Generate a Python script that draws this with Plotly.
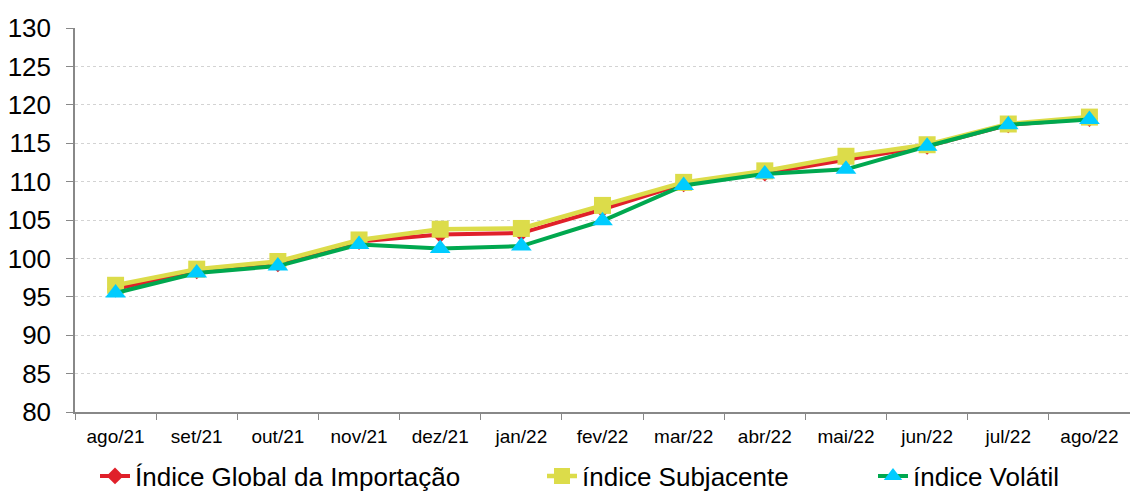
import plotly.graph_objects as go

# meses (eixo x)
meses = ["ago/21", "set/21", "out/21", "nov/21", "dez/21", "jan/22", "fev/22",
         "mar/22", "abr/22", "mai/22", "jun/22", "jul/22", "ago/22"]

# valores
indice_global = [96.0, 98.4, 99.3, 102.2, 103.1, 103.3, 106.4, 109.7, 111.1, 112.8, 114.6, 117.4, 118.2]
indice_subjacente = [96.5, 98.6, 99.6, 102.4, 103.8, 103.9, 106.9, 109.9, 111.4, 113.3, 114.8, 117.5, 118.4]
indice_volatil = [95.5, 98.1, 99.0, 101.8, 101.3, 101.6, 104.9, 109.5, 111.0, 111.6, 114.6, 117.4, 118.1]

nomes = ["Índice Global da Importação", "índice Subjacente", "índice Volátil"]

fonte = "Liberation Sans, Arial, sans-serif"
W, H = 1130, 492

fig = go.Figure()

fig.add_trace(go.Scatter(
    x=meses, y=indice_global, mode="lines+markers", name=nomes[0],
    line=dict(color="#E0202A", width=4),
    marker=dict(symbol="diamond", size=13, color="#E0202A"),
    legend="legend"))

fig.add_trace(go.Scatter(
    x=meses, y=indice_subjacente, mode="lines+markers", name=nomes[1],
    line=dict(color="#DCDC4A", width=4.5),
    marker=dict(symbol="square", size=17, color="#DCDC4A"),
    legend="legend2"))

fig.add_trace(go.Scatter(
    x=meses, y=indice_volatil, mode="lines+markers", name=nomes[2],
    line=dict(color="#00A84F", width=4),
    marker=dict(symbol="triangle-up", size=18, color="#00CCFF"),
    legend="legend3"))

# legendas separadas, posicionadas no contentor
leg = dict(orientation="h", yanchor="middle", xanchor="left",
           xref="container", yref="container", y=(H - 476) / H,
           font=dict(family=fonte, size=26, color="#000000"),
           bgcolor="rgba(0,0,0,0)", itemwidth=30)

fig.update_layout(
    width=W, height=H,
    margin=dict(l=75, r=0, t=28, b=80),
    plot_bgcolor="white", paper_bgcolor="white",
    font=dict(family=fonte, color="#000000"),
    showlegend=True,
    legend=dict(leg, x=95 / W),
    legend2=dict(leg, x=542 / W),
    legend3=dict(leg, x=873 / W),
    xaxis=dict(
        type="category", range=[-0.5, 12.5],
        showline=True, linecolor="#888888", linewidth=1.5,
        ticks="outside", tickson="boundaries", ticklen=6, tickcolor="#888888",
        showgrid=False, tickfont=dict(size=19, family=fonte),
        ticklabelstandoff=6),
    yaxis=dict(
        range=[80, 130], dtick=5,
        showline=True, linecolor="#888888", linewidth=1.5,
        ticks="outside", ticklen=7, tickcolor="#888888",
        showgrid=True, gridcolor="#d3d3d3", griddash="dot", gridwidth=1,
        zeroline=False, tickfont=dict(size=26, family=fonte),
        ticklabelstandoff=10),
)

# tirar a margem por omissão do <body> da página e a barra de ferramentas
fig.write_html("out.html", config={"displayModeBar": False},
               post_script="document.body.style.margin='0';")
